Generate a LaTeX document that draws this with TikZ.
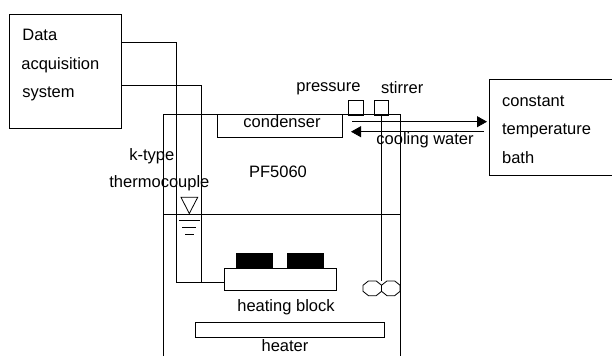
\documentclass[tikz,border=0pt]{standalone}
\usepackage{fontspec}
\setmainfont{Liberation Sans}
\usetikzlibrary{arrows.meta,shapes.geometric}
\tikzset{
  x=1pt,y=-1pt,
  every path/.style={line width=0.8pt},
  boxnode/.style={draw,inner sep=0pt,rectangle},
  lbl/.style={inner sep=0pt,anchor=base west,font=\fontsize{16.5}{19}\selectfont},
  lblc/.style={inner sep=0pt,anchor=base,font=\fontsize{16.5}{19}\selectfont},
  sensor/.style={fill=black,draw=none,inner sep=0pt,rectangle},
  blade/.style={draw,regular polygon,regular polygon sides=8,inner sep=0pt,minimum size=20pt,yscale=0.8},
  flow/.style={-{Triangle[length=10pt,width=11pt]}},
}
\begin{document}
\begin{tikzpicture}
\useasboundingbox (0,0) rectangle (612,356);
% data acquisition
\node[boxnode,minimum width=112pt,minimum height=114pt] (daq) at (65,71) {};
\node[lbl] (t1) at (22,40) {Data};
\node[lbl] (t2) at (21,69) {acquisition};
\node[lbl] (t3) at (22,97) {system};
% bath
\node[boxnode,minimum width=125pt,minimum height=96pt] (bath) at (551.5,127.3) {};
\node[lbl] (t4) at (501.7,106) {constant};
\node[lbl] (t5) at (501.7,134) {temperature};
\node[lbl] (t6) at (501.7,163) {bath};
% vessel
\coordinate (vbl) at (163,356);
\coordinate (vtl) at (163,114);
\coordinate (vtr) at (400,114);
\coordinate (vbr) at (400,356);
\draw (vbl) -- (vtl) -- (vtr) -- (vbr);
\coordinate (wl) at (163,214);
\coordinate (wr) at (400,214);
\draw (wl) -- (wr);
% condenser
\node[boxnode,minimum width=124.6pt,minimum height=23pt] (cond) at (280,125.5) {};
\node[lblc] (t7) at (282,127.7) {condenser};
% pressure and stirrer ports
\node[boxnode,minimum width=14.4pt,minimum height=15pt] (pbox) at (355.9,107.5) {};
\node[boxnode,minimum width=14.4pt,minimum height=15pt] (sbox) at (381.5,107.5) {};
\node[lbl] (t8) at (296,91) {pressure};
\node[lbl] (t9) at (380.7,93) {stirrer};
% cooling water
\coordinate (af) at (352,121.7);
\coordinate (at) at (487,121.7);
\coordinate (bf) at (484,131.7);
\coordinate (bt) at (351,131.7);
\draw[flow] (af) -- (at);
\draw[flow] (bf) -- (bt);
\node[lbl] (t10) at (376,144) {cooling water};
% labels
\node[lblc] (t11) at (278,177.7) {PF5060};
\node[lbl] (t12) at (129,160) {k-type};
\node[lbl] (t13) at (109,187.7) {thermocouple};
% heating block
\node[boxnode,minimum width=112pt,minimum height=22pt] (block) at (280.7,279) {};
\node[sensor,minimum width=37.3pt,minimum height=15pt] (c1) at (254.7,260.5) {};
\node[sensor,minimum width=37pt,minimum height=15pt] (c2) at (305.2,260.5) {};
\node[lblc] (t14) at (286,311.7) {heating block};
% heater
\node[boxnode,minimum width=189.7pt,minimum height=15pt] (heater) at (289.9,330.2) {};
\node[lblc] (t15) at (285,351.7) {heater};
% thermocouple wires
\coordinate (w1) at (176.7,282);
\coordinate (w2) at (201.7,282);
\draw (daq.east |- 0,42.3) -| (w1) -- (block.west |- w1);
\draw (daq.east |- 0,85) -| (w2);
% level symbol
\coordinate (ta) at (181,197.3);
\coordinate (tb) at (197.7,197.3);
\coordinate (tc) at (189.3,213.5);
\draw (ta) -- (tb) -- (tc) -- cycle;
\coordinate (l1a) at (179,220); \coordinate (l1b) at (200,220);
\coordinate (l2a) at (182,227.3); \coordinate (l2b) at (196,227.3);
\coordinate (l3a) at (185,234.3); \coordinate (l3b) at (194,234.3);
\draw (l1a) -- (l1b);
\draw (l2a) -- (l2b);
\draw (l3a) -- (l3b);
% stirrer
\node[blade] (b1) at (372.3,288.3) {};
\node[blade] (b2) at (390.8,288.3) {};
\draw (sbox.south) ++(0.2,0) coordinate (shaft) -- (shaft |- b1.north);
\end{tikzpicture}
\end{document}
